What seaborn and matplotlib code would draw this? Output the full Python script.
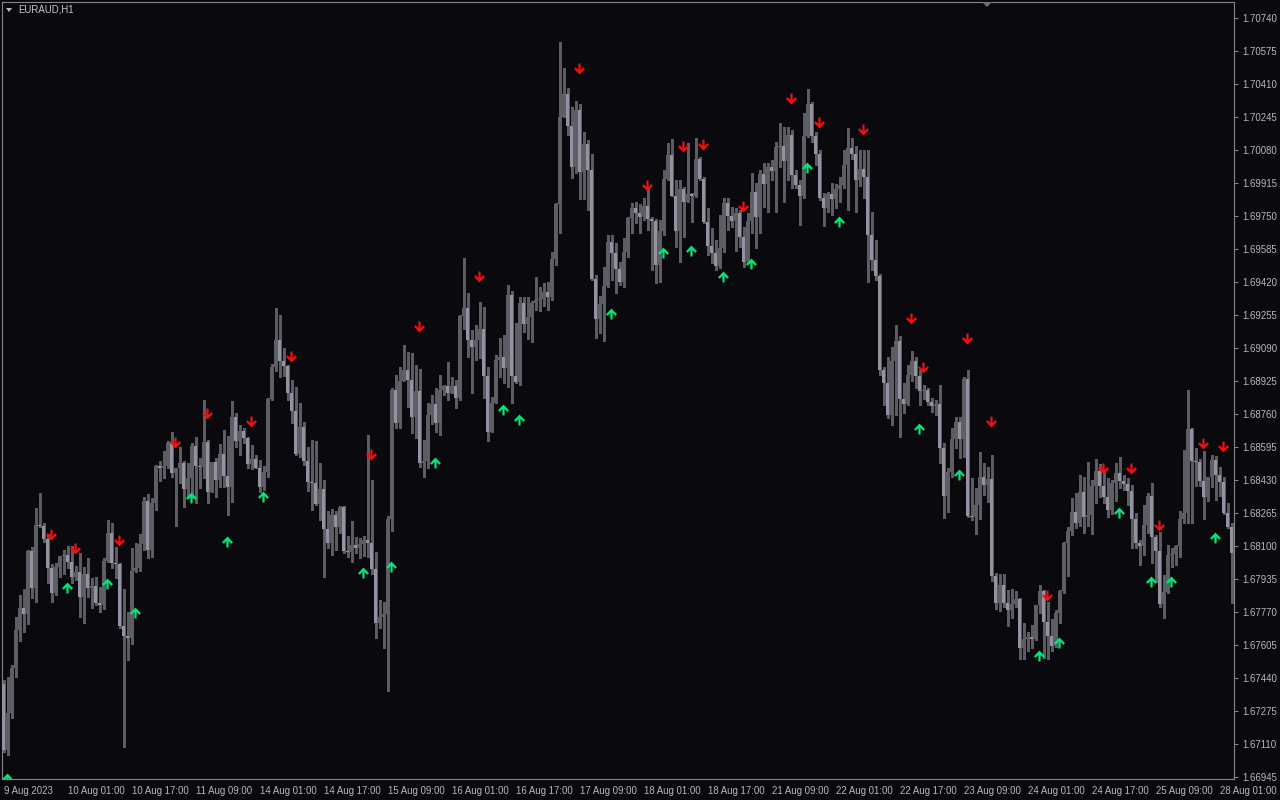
import numpy as np
import matplotlib
matplotlib.use("Agg")
import matplotlib.pyplot as plt
import seaborn as sns
from matplotlib.path import Path
from matplotlib.patches import Polygon

# ---------------- data (prices in points, 1 point = 0.00001) ----------------
symbol_label = "EURAUD,H1"
first_open_pts = 167410
close_pts = [
    167080, 167265, 167490, 167680, 167790, 167760, 168075, 167890, 168205, 168200,
    168135, 167990, 167865, 167995, 168050, 168055, 168020, 167945, 167970, 167845,
    167960, 167890, 167900, 167815, 167805, 168025, 168165, 168015, 168010, 167700,
    167650, 167640, 167975, 167990, 168110, 168325, 168080, 168315, 168500, 168490,
    168500, 168615, 168465, 168490, 168515, 168385, 168440, 168600, 168500, 168495,
    168620, 168370, 168520, 168430, 168560, 168450, 168395, 168745, 168625, 168675,
    168640, 168510, 168535, 168490, 168395, 168470, 168835, 168995, 169130, 169025,
    169000, 168865, 168775, 168560, 168695, 168525, 168420, 168415, 168310, 168385,
    168185, 168115, 168255, 168195, 168295, 168075, 168070, 168105, 168090, 168110,
    168130, 168115, 167985, 167715, 167745, 167760, 168235, 168880, 168715, 168925,
    168980, 168930, 168745, 168875, 168515, 168525, 168755, 168810, 168715, 168880,
    168900, 168865, 168900, 168840, 169250, 169290, 169130, 169095, 169130, 169185,
    168950, 168670, 168815, 169030, 169045, 168990, 169355, 168950, 168920, 169315,
    169210, 169245, 169315, 169330, 169335, 169370, 169345, 169535, 169810, 170245,
    170360, 170200, 169995, 170280, 169970, 170110, 169980, 169435, 169235, 169310,
    169400, 169620, 169565, 169485, 169420, 169570, 169740, 169790, 169765, 169745,
    169800, 169735, 169725, 169505, 169675, 169935, 170055, 169850, 169675, 169885,
    169820, 169860, 169850, 170035, 169935, 169720, 169600, 169565, 169500, 169590,
    169815, 169750, 169725, 169765, 169645, 169520, 169725, 169870, 169745, 169960,
    169910, 169995, 169975, 170095, 170100, 170025, 170155, 169955, 169905, 169850,
    170150, 170310, 170150, 170060, 169840, 169790, 169860, 169835, 169885, 169905,
    170005, 170090, 170060, 169930, 169985, 169945, 169655, 169530, 169450, 168980,
    168915, 168755, 169025, 169125, 168835, 168810, 168955, 169025, 168950, 168875,
    168880, 168820, 168800, 168810, 168590, 168350, 168470, 168635, 168720, 168635,
    168935, 168250, 168245, 168305, 168445, 168405, 168435, 167950, 167815, 167905,
    167815, 167780, 167810, 167835, 167590, 167635, 167645, 167635, 167805, 167875,
    167720, 167650, 167600, 167765, 167875, 168115, 168175, 168270, 168215, 168370,
    168245, 168255, 168400, 168475, 168400, 168345, 168280, 168415, 168465, 168425,
    168410, 168375, 168235, 168115, 168100, 168205, 168350, 168145, 168075, 167810,
    167870, 168055, 168060, 168100, 168235, 168265, 168685, 168525, 168520, 168425,
    168345, 168445, 168530, 168455, 168420, 168265, 168195, 168065,
]
upper_wick_pts = [
    20, 180, 15, 65, 65, 95, 5, 20, 85, 160,
    15, 25, 20, 20, 0, 25, 45, 80, 30, 95,
    35, 80, 40, 45, 80, 15, 65, 50, 80, 5,
    185, 120, 115, 125, 50, 20, 35, 25, 5, 25,
    75, 10, 55, 0, 80, 10, 75, 15, 45, 40,
    210, 10, 0, 20, 50, 120, 200, 80, 20, 30,
    15, 5, 70, 20, 40, 30, 5, 15, 160, 125,
    65, 5, 65, 120, 120, 25, 70, 210, 210, 130,
    45, 90, 30, 20, 5, 5, 75, 120, 40, 30,
    20, 525, 315, 85, 85, 60, 15, 10, 75, 70,
    125, 90, 135, 130, 110, 105, 60, 45, 80, 75,
    5, 120, 45, 30, 5, 250, 75, 50, 75, 135,
    110, 45, 30, 25, 95, 110, 50, 20, 265, 30,
    30, 100, 10, 115, 60, 45, 50, 35, 5, 375,
    130, 30, 95, 45, 30, 60, 20, 80, 20, 40,
    95, 35, 35, 50, 35, 70, 5, 25, 30, 45,
    40, 90, 10, 10, 55, 45, 60, 80, 80, 45,
    10, 255, 5, 105, 10, 10, 70, 90, 65, 165,
    25, 25, 45, 25, 15, 50, 40, 95, 45, 20,
    55, 20, 35, 25, 115, 95, 40, 25, 25, 25,
    115, 75, 10, 20, 20, 25, 10, 55, 25, 40,
    75, 100, 50, 40, 95, 95, 135, 115, 100, 10,
    15, 130, 70, 80, 25, 80, 50, 50, 20, 30,
    25, 10, 20, 20, 95, 25, 20, 55, 25, 25,
    10, 45, 190, 85, 125, 70, 60, 120, 15, 55,
    55, 65, 75, 40, 5, 80, 25, 60, 0, 30,
    5, 100, 85, 15, 5, 5, 20, 70, 95, 85,
    75, 265, 30, 60, 35, 70, 95, 15, 50, 80,
    30, 30, 30, 30, 15, 100, 15, 65, 10, 95,
    85, 50, 30, 5, 40, 315, 195, 5, 65, 15,
    150, 0, 25, 20, 40, 25, 50, 20,
]
lower_wick_pts = [
    10, 25, 25, 45, 55, 90, 50, 50, 70, 5,
    15, 75, 45, 10, 50, 90, 30, 30, 15, 100,
    130, 45, 100, 10, 35, 20, 5, 25, 70, 10,
    555, 110, 30, 5, 15, 30, 40, 35, 35, 65,
    50, 10, 20, 265, 75, 90, 45, 100, 185, 105,
    55, 55, 0, 85, 35, 55, 140, 75, 30, 70,
    25, 20, 25, 0, 25, 15, 25, 5, 20, 80,
    50, 35, 60, 5, 15, 20, 45, 135, 5, 80,
    240, 25, 60, 115, 30, 10, 25, 50, 25, 50,
    60, 70, 25, 75, 25, 155, 385, 60, 25, 25,
    0, 135, 80, 105, 20, 70, 35, 45, 45, 60,
    25, 35, 0, 50, 10, 65, 85, 230, 65, 90,
    110, 45, 0, 0, 85, 75, 95, 135, 5, 15,
    40, 75, 125, 35, 55, 35, 65, 15, 30, 145,
    0, 45, 55, 30, 135, 135, 200, 5, 95, 70,
    185, 5, 135, 120, 15, 25, 25, 75, 50, 80,
    15, 55, 245, 90, 85, 20, 5, 0, 80, 155,
    175, 0, 130, 5, 5, 5, 45, 50, 20, 10,
    20, 70, 30, 150, 50, 25, 5, 60, 155, 80,
    115, 140, 45, 205, 100, 205, 95, 65, 15, 145,
    10, 5, 30, 55, 10, 90, 20, 80, 45, 65,
    15, 225, 25, 160, 30, 105, 235, 50, 20, 25,
    110, 15, 50, 270, 190, 45, 5, 30, 60, 70,
    40, 15, 30, 45, 75, 110, 80, 25, 45, 95,
    90, 5, 15, 85, 70, 50, 85, 25, 30, 40,
    20, 80, 40, 15, 55, 55, 60, 45, 5, 40,
    180, 115, 25, 5, 50, 10, 165, 20, 25, 15,
    80, 45, 95, 85, 55, 30, 35, 20, 90, 35,
    30, 70, 145, 25, 95, 45, 40, 130, 155, 15,
    70, 5, 60, 55, 55, 20, 50, 310, 120, 25,
    110, 20, 50, 125, 70, 5, 5, 250,
]
sell_idx = [12, 18, 29, 43, 51, 62, 72, 92, 104, 119, 144, 161, 170, 175, 185,
            197, 204, 215, 227, 230, 241, 247, 261, 275, 282, 289, 300, 305]
sell_pts = [168155, 168085, 168125, 168615, 168760, 168720, 169045, 168555, 169195,
            169445, 170485, 169900, 170095, 170105, 169795, 170335, 170215, 170180,
            169235, 168990, 169135, 168720, 167850, 168485, 168485, 168200, 168610,
            168595]
buy_idx = [1, 16, 26, 33, 47, 56, 65, 90, 97, 108, 125, 129, 152, 165, 172, 180,
           187, 201, 209, 229, 239, 259, 264, 279, 287, 292, 303]
buy_pts = [166935, 167890, 167910, 167765, 168340, 168120, 168345, 167965, 167995,
           168515, 168780, 168730, 169260, 169565, 169575, 169445, 169510, 169990,
           169720, 168685, 168455, 167550, 167615, 168265, 167920, 167920, 168140]
x_tick_labels = ["9 Aug 2023", "10 Aug 01:00", "10 Aug 17:00", "11 Aug 09:00",
                 "14 Aug 01:00", "14 Aug 17:00", "15 Aug 09:00", "16 Aug 01:00",
                 "16 Aug 17:00", "17 Aug 09:00", "18 Aug 01:00", "18 Aug 17:00",
                 "21 Aug 09:00", "22 Aug 01:00", "22 Aug 17:00", "23 Aug 09:00",
                 "24 Aug 01:00", "24 Aug 17:00", "25 Aug 09:00", "28 Aug 01:00"]
y_tick_labels = ["1.70740", "1.70575", "1.70410", "1.70245", "1.70080", "1.69915",
                 "1.69750", "1.69585", "1.69420", "1.69255", "1.69090", "1.68925",
                 "1.68760", "1.68595", "1.68430", "1.68265", "1.68100", "1.67935",
                 "1.67770", "1.67605", "1.67440", "1.67275", "1.67110", "1.66945"]

# ---------------- style ----------------
BG = "#0a0a0e"
BULL = "#9292a0"
BEAR = "#5e5e64"
WICK = "#5c5c62"
RED = "#f01010"
GREEN = "#00e67a"
TXT = "#b4b8c2"
FRAME = "#85858a"

sns.set_style("dark", {"axes.facecolor": BG, "figure.facecolor": BG,
                       "axes.edgecolor": FRAME, "grid.color": BG})
plt.rcParams["font.family"] = ["Liberation Sans", "DejaVu Sans"]

closes = np.array(close_pts, dtype=float) / 1e5
opens = np.concatenate([[first_open_pts], close_pts[:-1]]).astype(float) / 1e5
highs = np.maximum(opens, closes) + np.array(upper_wick_pts) / 1e5
lows = np.minimum(opens, closes) - np.array(lower_wick_pts) / 1e5
x = np.arange(len(closes))
bull = closes <= opens
body_bottom = np.minimum(opens, closes)
body_h = np.maximum(np.abs(closes - opens), 0.00005)

fig = plt.figure(figsize=(12.8, 8), dpi=100)
fig.patch.set_facecolor(BG)
ax = fig.add_axes([2 / 1280, 21 / 800, 1232 / 1280, 777 / 800])
ax.set_facecolor(BG)

ax.vlines(x, lows, highs, color=WICK, linewidth=0.75, zorder=2, antialiased=False)
ax.bar(x, body_h, bottom=body_bottom, width=0.75,
       color=np.where(bull, BULL, BEAR), linewidth=0, zorder=3, antialiased=False)

down = Path([(-0.1, 0.5), (0.1, 0.5), (0.1, -0.08), (0.36, 0.16), (0.5, 0.02),
             (0.0, -0.5), (-0.5, 0.02), (-0.36, 0.16), (-0.1, -0.08), (-0.1, 0.5)],
            [Path.MOVETO] + [Path.LINETO] * 8 + [Path.CLOSEPOLY])
up = Path([(vx, -vy) for vx, vy in down.vertices], down.codes)

sns.scatterplot(x=sell_idx, y=np.array(sell_pts) / 1e5, marker=down, s=62,
                color=RED, linewidth=0, edgecolor="none", ax=ax, legend=False, zorder=5)
sns.scatterplot(x=buy_idx, y=np.array(buy_pts) / 1e5, marker=up, s=62,
                color=GREEN, linewidth=0, edgecolor="none", ax=ax, legend=False, zorder=5)

ax.set_xlim(-0.375, 307.625)
ax.set_ylim(1.66935, 1.70820)
ax.grid(False)
for sp in ax.spines.values():
    sp.set_color(FRAME)
    sp.set_linewidth(0.8)

ax.set_xticks([16 * k for k in range(len(x_tick_labels))])
ax.set_xticklabels(x_tick_labels, fontsize=6.9, color=TXT, ha="left")
ax.set_yticks([float(v) for v in y_tick_labels])
ax.set_yticklabels(y_tick_labels, fontsize=6.9, color=TXT)
ax.yaxis.tick_right()
ax.tick_params(axis="x", direction="out", length=3, width=0.8, color=FRAME, pad=2)
ax.tick_params(axis="y", direction="out", length=3, width=0.8, color=FRAME, pad=3)
ax.set_xlabel("")
ax.set_ylabel("")

fig.text(18 / 1280, 1 - 10 / 800, symbol_label, fontsize=6.9, color="#c4c8d0",
         ha="left", va="center")
fig.patches.append(Polygon([(6 / 1280, 1 - 8 / 800), (12 / 1280, 1 - 8 / 800),
                            (9 / 1280, 1 - 12 / 800)], closed=True,
                           transform=fig.transFigure, facecolor="#b8bcc4",
                           edgecolor="none"))
fig.patches.append(Polygon([(982 / 1280, 1 - 2 / 800), (992 / 1280, 1 - 2 / 800),
                            (987 / 1280, 1 - 7 / 800)], closed=True,
                           transform=fig.transFigure, facecolor="#6e6e74",
                           edgecolor="none"))

fig.savefig("out.png", dpi=100, facecolor=BG)
